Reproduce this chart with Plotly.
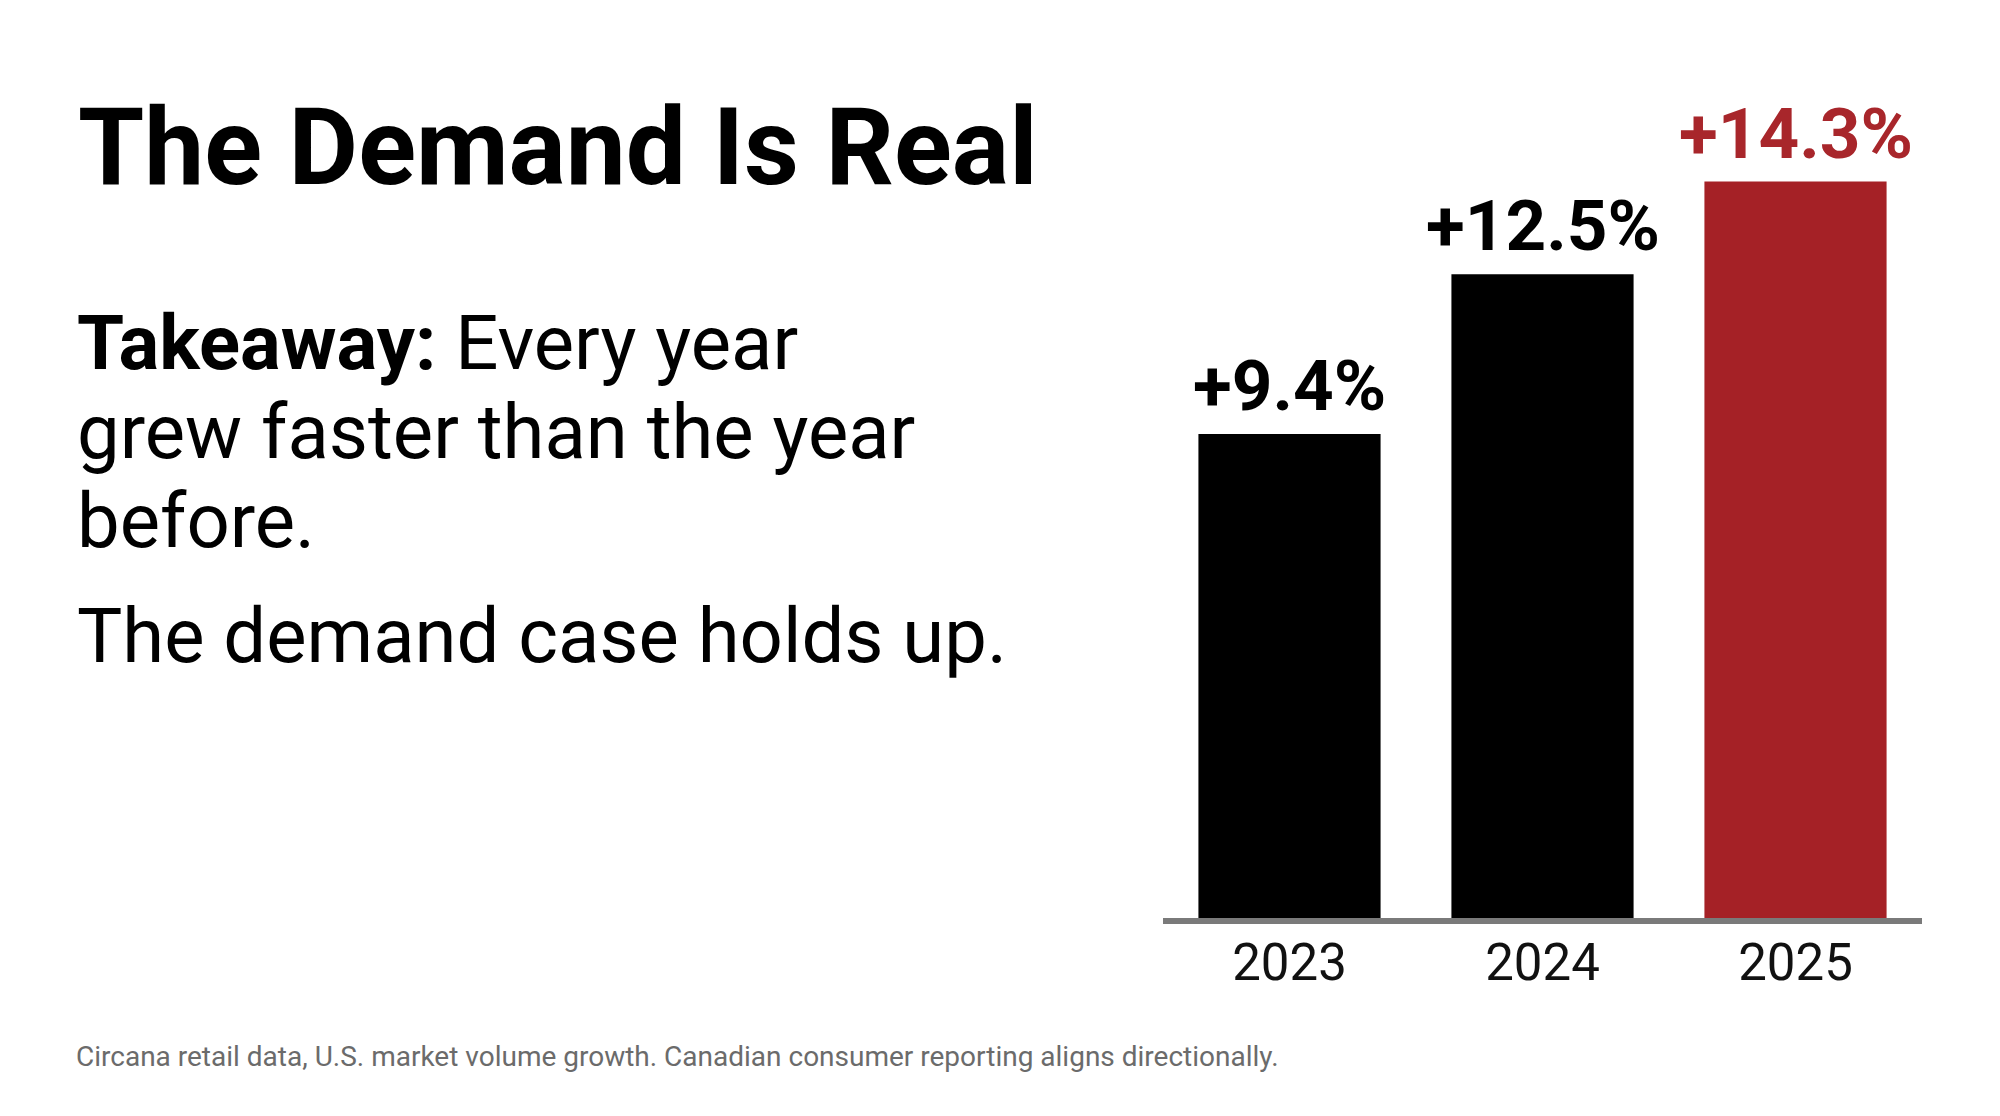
import plotly.graph_objects as go

# Year-over-year volume growth
years = ["2023", "2024", "2025"]
growth = [9.4, 12.5, 14.3]
growth_labels = ["+9.4%", "+12.5%", "+14.3%"]
bar_colors = ["#000000", "#000000", "#a52126"]
label_colors = ["#000000", "#000000", "#a8262b"]

title_text = "The Demand Is Real"
takeaway_lines = ["<b>Takeaway:</b> Every year", "grew faster than the year", "before."]
closing_line = "The demand case holds up."
source_note = "Circana retail data, U.S. market volume growth. Canadian consumer reporting aligns directionally."

W, H = 2000, 1116
OFF = 8  # page body margin pushes the figure by this much
FONT = "Roboto"


def px(x):
    return (x - OFF) / W


def py(y):
    return 1 - (y - OFF) / H


fig = go.Figure()
fig.add_trace(go.Bar(
    x=years, y=growth,
    marker=dict(color=bar_colors, line=dict(width=0)),
    width=0.72,
    hoverinfo="skip",
))

# value labels sit just above each bar (x given as category index)
for i, (val, lab, col) in enumerate(zip(growth, growth_labels, label_colors)):
    fig.add_annotation(
        text=lab, x=i, y=val, xref="x", yref="y",
        xanchor="center", yanchor="bottom", yshift=5, showarrow=False,
        font=dict(family=FONT, size=71, color=col, weight="bold"),
    )

# text blocks on the left side of the slide
notes = []
notes.append(dict(text=title_text, x=px(76), y=py(184 - 37), size=107, color="#000000", weight="bold"))
for i, line in enumerate(takeaway_lines):
    notes.append(dict(text=line, x=px(75), y=py([370, 459, 548][i] - 27), size=76, color="#000000", weight="normal"))
notes.append(dict(text=closing_line, x=px(75), y=py(663 - 27), size=76, color="#000000", weight="normal"))
notes.append(dict(text=source_note, x=px(74), y=py(1066 - 10), size=28, color="#6b6b6b", weight="normal"))

for n in notes:
    fig.add_annotation(
        text=n["text"], x=n["x"], y=n["y"], xref="paper", yref="paper",
        xanchor="left", yanchor="middle", showarrow=False,
        font=dict(family=FONT, size=n["size"], color=n["color"], weight=n["weight"]),
    )

fig.update_layout(
    width=W, height=H,
    margin=dict(l=0, r=0, t=0, b=0),
    paper_bgcolor="white", plot_bgcolor="white",
    showlegend=False,
    xaxis=dict(
        type="category",
        domain=[px(1163), px(1922)], range=[-0.5, 2.5],
        showline=True, linecolor="#7a7a7a", linewidth=6,
        showgrid=False, ticks="", ticklabelstandoff=-5,
        tickfont=dict(family=FONT, size=51, color="#111111"),
    ),
    yaxis=dict(
        domain=[py(918), py(94)], range=[0, 16],
        visible=False, showgrid=False, zeroline=False,
    ),
)

fig.write_html("out.html")
